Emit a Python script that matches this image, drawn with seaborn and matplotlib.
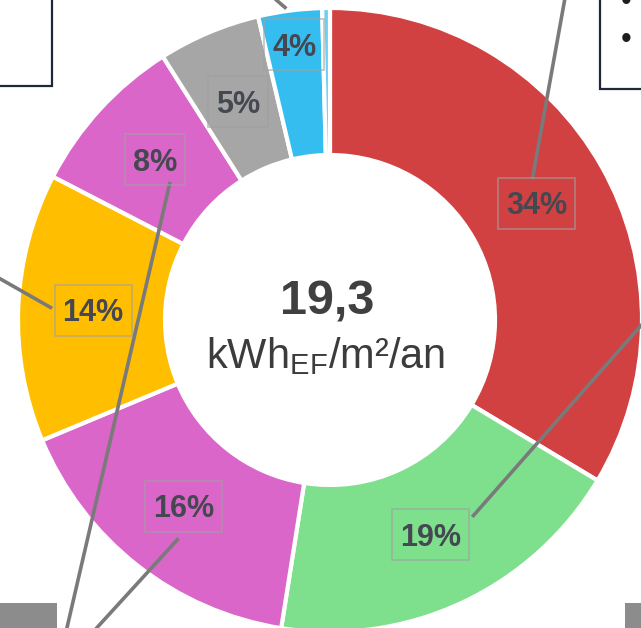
import matplotlib
matplotlib.use("Agg")
import matplotlib.pyplot as plt
import seaborn as sns
import numpy as np
from matplotlib.patches import Rectangle

# canvas size in pixels
W, H = 641, 628

# slice shares (%) clockwise from 12 o'clock
shares = [33.6, 18.9, 16.2, 13.9, 8.4, 5.3, 3.3, 0.4]
pct_labels = ["34%", "19%", "16%", "14%", "8%", "5%", "4%", ""]
slice_colors = ["#d24141", "#7ee08d", "#d966c8", "#ffbf00",
                "#d966c8", "#a6a6a6", "#36bdf0", "#6cd0f4"]

total_value = "19,3"
unit_label = r"kWh$_{\mathrm{EF}}$/m²/an"

sns.set_theme(style="white")
plt.rcParams['font.family'] = ['Liberation Sans', 'DejaVu Sans']
plt.rcParams['mathtext.fontset'] = 'custom'
plt.rcParams['mathtext.rm'] = 'Liberation Sans'


def fy(y):
    # image y (top-down) -> data y (bottom-up)
    return H - y


fig = plt.figure(figsize=(W / 100, H / 100), dpi=100)
ax = fig.add_axes([0, 0, 1, 1])

cx, cy, R, ring = 330, 320, 312, 147
wedges, _ = ax.pie(shares, colors=sns.color_palette(slice_colors),
                   startangle=90, counterclock=False,
                   center=(cx, fy(cy)), radius=R,
                   wedgeprops=dict(width=ring, edgecolor='white', linewidth=3))
ax.set_xlim(0, W)
ax.set_ylim(0, H)
ax.set_aspect('equal')
ax.axis('off')

# label anchor points from wedge angles
label_r = [0.76, 0.76, 0.76, 0.76, 0.76, 0.76, 0.89, 0.76]
anchors = []
for w, fr in zip(wedges, label_r):
    mid = np.deg2rad((w.theta1 + w.theta2) / 2)
    anchors.append((cx + R * fr * np.cos(mid), fy(cy) + R * fr * np.sin(mid)))

# leader lines: slice index, offset of inner end from label centre, outer end (image px)
leaders = [
    (0, (-4, 24), (565, -2)),
    (1, (42, 18), (645, 321)),
    (2, (-5, -32), (93, 632)),
    (3, (-41, 2), (-3, 277)),
    (4, (15, -22), (66, 632)),
    (6, (-8, 36), (274, -2)),
]
for i, (ox, oy), (ex, ey) in leaders:
    x0, y0 = anchors[i]
    ax.plot([x0 + ox, ex], [y0 + oy, fy(ey)], color='#7a7a7a', lw=2.6,
            solid_capstyle='butt', zorder=3)

# percentage labels with thin boxes
texts = []
for (x, y), lab in zip(anchors, pct_labels):
    if not lab:
        continue
    t = ax.text(x, y - 11, lab, ha='center', va='baseline', fontsize=22,
                fontweight='bold', color='#454850', zorder=5)
    texts.append((t, x, y))

fig.canvas.draw()
renderer = fig.canvas.get_renderer()
for t, x, y in texts:
    bb = t.get_window_extent(renderer).transformed(ax.transData.inverted())
    bw = bb.width + 16
    ax.add_patch(Rectangle((x - bw / 2, y - 25.5), bw, 51, facecolor='none',
                           edgecolor='#a0a0a0', alpha=0.65, lw=1.2, zorder=4))

# centre text
ax.text(327, fy(315), total_value, ha='center', va='baseline', fontsize=35,
        fontweight='bold', color='#404040', zorder=5)
ax.text(326, fy(368), unit_label, ha='center', va='baseline', fontsize=30,
        color='#3c3c3c', zorder=5)

# cropped surrounding frames
ax.add_patch(Rectangle((-5, fy(86)), 57, 95, facecolor='white',
                       edgecolor='#1e2838', lw=1.6, zorder=2))
ax.add_patch(Rectangle((600, fy(89)), 60, 98, facecolor='white',
                       edgecolor='#1e2838', lw=1.6, zorder=2))
for by in [10, 48]:
    ax.text(626, fy(by), "•", ha='center', va='baseline', fontsize=22,
            color='#1e1e1e', zorder=5)
ax.add_patch(Rectangle((-5, fy(628) - 5), 62, 30, facecolor='#8c8c8c',
                       edgecolor='none', zorder=2))
ax.add_patch(Rectangle((625, fy(628) - 5), 30, 30, facecolor='#8c8c8c',
                       edgecolor='none', zorder=2))

fig.savefig("out.png", dpi=100)
